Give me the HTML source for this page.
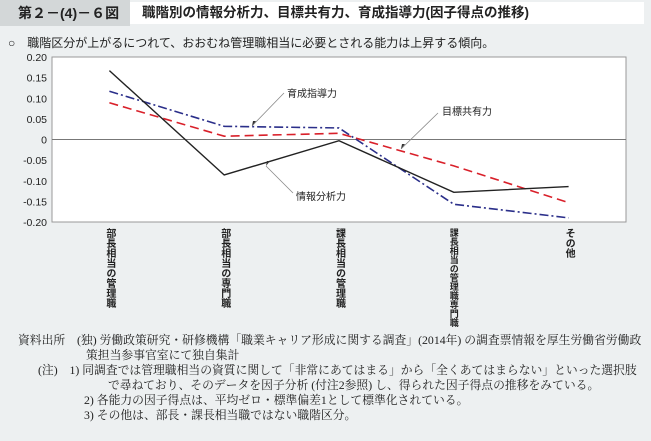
<!DOCTYPE html>
<html><head><meta charset="utf-8">
<style>
body{margin:0;width:651px;height:441px;background:#edf0f1;font-family:"Liberation Sans","Noto Sans CJK JP",sans-serif;position:relative;overflow:hidden;color:#222}
.abs{position:absolute}
#tab{left:0;top:0;width:130px;height:26px;background:#d3d7d8;font-size:14px;line-height:26px;padding-left:18px;box-sizing:border-box;font-weight:bold}
#tbox{left:130px;top:2px;width:514px;height:22px;background:#fff;font-size:13.5px;line-height:22px;padding-left:12px;box-sizing:border-box;font-weight:bold}
#sub{left:8px;top:34px;font-size:12px}
.foot{font-size:11.8px;line-height:15px;white-space:nowrap;font-family:"Liberation Serif","Noto Serif CJK SC",serif}
</style></head><body>
<div id="tab" class="abs">第２－(4)－６図</div>
<div id="tbox" class="abs">職階別の情報分析力、目標共有力、育成指導力(因子得点の推移)</div>
<div id="sub" class="abs">○　職階区分が上がるにつれて、おおむね管理職相当に必要とされる能力は上昇する傾向。</div>
<svg class="abs" style="left:0;top:0" width="651" height="330" id="chart"></svg>
<div class="abs foot" style="left:18px;top:333px">資料出所　(独) 労働政策研究・研修機構「職業キャリア形成に関する調査」(2014年) の調査票情報を厚生労働省労働政<br><span style="padding-left:68px">策担当参事官室にて独自集計</span></div>
<div class="abs foot" style="left:38px;top:363px">(注)　1) 同調査では管理職相当の資質に関して「非常にあてはまる」から「全くあてはまらない」といった選択肢<br><span style="padding-left:70px">で尋ねており、そのデータを因子分析 (付注2参照) し、得られた因子得点の推移をみている。</span><br><span style="padding-left:46px">2) 各能力の因子得点は、平均ゼロ・標準偏差1として標準化されている。</span><br><span style="padding-left:46px">3) その他は、部長・課長相当職ではない職階区分。</span></div>
<script>
const categories=["部長相当の管理職","部長相当の専門職","課長相当の管理職","課長相当の管理職専門職","その他"];
const infoValues=[0.167,-0.086,-0.003,-0.128,-0.114];
const goalValues=[0.089,0.008,0.015,-0.064,-0.153];
const trainValues=[0.117,0.032,0.028,-0.157,-0.190];
const yTicks=[0.20,0.15,0.10,0.05,0,-0.05,-0.10,-0.15,-0.20];
const NS="http://www.w3.org/2000/svg";
const svg=document.getElementById('chart');
const L=52,R=626,T=57,B=222;
const yMin=-0.2,yMax=0.2;
function y(v){return B-(v-yMin)/(yMax-yMin)*(B-T);}
function x(i){const bw=(R-L)/categories.length;return L+bw*(i+0.5);}
function mk(t,a){const e=document.createElementNS(NS,t);for(const k in a)e.setAttribute(k,a[k]);svg.appendChild(e);return e;}
const bg=mk('rect',{x:L,y:T,width:R-L,height:B-T,fill:'#fff',stroke:'#999','stroke-width':1});


yTicks.forEach(v=>{
 const t=mk('text',{x:47,y:y(v)+4,'text-anchor':'end','font-size':10.5,fill:'#222'});
 t.textContent=v===0?'0':v.toFixed(2);
 
 
});
const z=mk('line',{x1:L,x2:R,y1:y(0),y2:y(0),stroke:'#777','stroke-width':1});


categories.forEach((c,i)=>{
 const long=c.length>8;
 const t=mk('text',{x:x(i),y:228,'font-size':long?9:10,'writing-mode':'tb','glyph-orientation-vertical':0,fill:'#222','font-weight':'bold'});
 t.textContent=c;
 
 
});
function series(vals,col,dash,w,name){
 const p=mk('polyline',{points:vals.map((v,i)=>x(i)+','+y(v)).join(' '),fill:'none',stroke:col,'stroke-width':w,'stroke-dasharray':dash});
 
 
}
series(goalValues,'#d9202a','9,5',1.6,'series-goal-sharing');
series(trainValues,'#2b2f8a','9,3,2,3',1.6,'series-training');
series(infoValues,'#222','',1.4,'series-info-analysis');
function ann(tx,ty,lx1,ly1,lx2,ly2,label,name){
 mk('line',{x1:lx1,y1:ly1,x2:lx2,y2:ly2,stroke:'#888','stroke-width':0.8});
 mk('polygon',{points:`${lx2},${ly2} ${lx2+4},${ly2-5} ${lx2+1},${ly2-5}`,fill:'#333'});
 const t=mk('text',{x:tx,y:ty+4,'font-size':10,fill:'#222'});
 t.textContent=label;
 
 
}
ann(287,93,284,93,252,126,'育成指導力','label-training');
ann(442,111,438,113,401,149,'目標共有力','label-goal-sharing');
ann(296,196,293,193,266,166,'情報分析力','label-info-analysis');
</script>
</body></html>
